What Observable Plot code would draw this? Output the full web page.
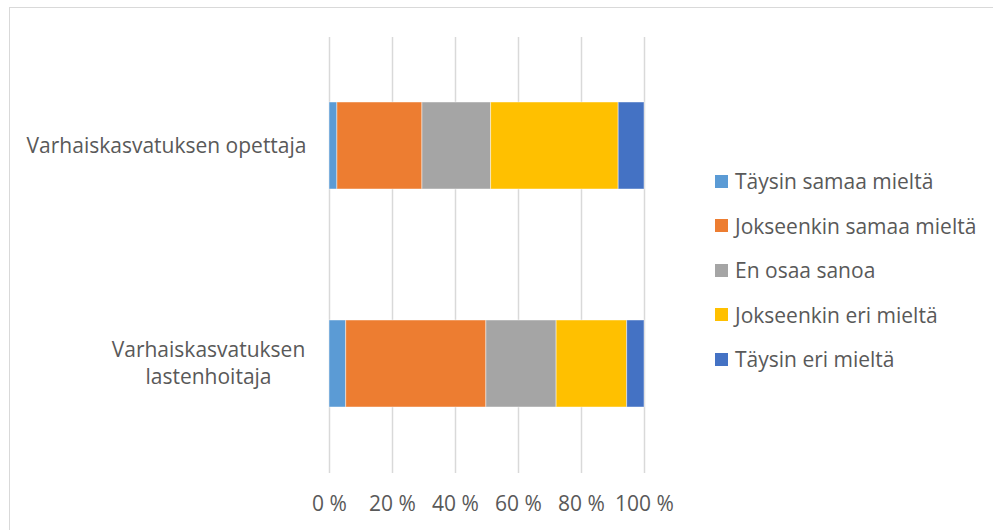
<!DOCTYPE html>
<html lang="fi">
<head>
<meta charset="utf-8">
<script src="https://cdn.jsdelivr.net/npm/d3@7"></script>
<script src="https://cdn.jsdelivr.net/npm/@observablehq/plot@0.6"></script>
<style>
  html, body { margin: 0; padding: 0; background: #fff; overflow: hidden; }
  #wrap { position: relative; width: 993px; height: 530px; overflow: hidden;
          font-family: "Open Sans", Lato, sans-serif; color: #595959; }
  #border { position: absolute; left: 9px; top: 7px; width: 1100px; height: 600px;
            border: 1.5px solid #d9d9d9; box-sizing: border-box; }
  #chart { position: absolute; left: 0; top: 0; }
  #legend { position: absolute; left: 715px; top: 159px; }
  .item { display: flex; align-items: center; height: 44.5px; font-size: 21px; }
  .sw { width: 13px; height: 13px; margin-right: 7px; flex: none; }
</style>
</head>
<body>
<div id="wrap">
  <div id="border"></div>
  <div id="chart"></div>
  <div id="legend"></div>
</div>
<script>
// Survey answers, percentage of respondents by occupation
const categories = ["Varhaiskasvatuksen opettaja", "Varhaiskasvatuksen lastenhoitaja"];
const categoryLabels = ["Varhaiskasvatuksen opettaja", "Varhaiskasvatuksen\nlastenhoitaja"];
const series = ["Täysin samaa mieltä", "Jokseenkin samaa mieltä", "En osaa sanoa", "Jokseenkin eri mieltä", "Täysin eri mieltä"];
const opettajaValues = [2.5, 27.0, 21.8, 40.5, 8.2];
const lastenhoitajaValues = [5.3, 44.5, 22.3, 22.4, 5.5];
const tickValues = [0, 20, 40, 60, 80, 100];
const colors = ["#5B9BD5", "#ED7D31", "#A5A5A5", "#FFC000", "#4472C4"];

const valuesByCategory = [opettajaValues, lastenhoitajaValues];
const rows = [];
categories.forEach((c, i) => {
  series.forEach((s, j) => rows.push({category: c, series: s, value: valuesByCategory[i][j]}));
});
const labelOf = new Map(categories.map((c, i) => [c, categoryLabels[i]]));

const textColor = "#595959";
const font = "'Open Sans', Lato, sans-serif";
const fontSize = 21;
const chart = Plot.plot({
  width: 993,
  height: 530,
  marginLeft: 329,
  marginRight: 349,
  marginTop: 37,
  marginBottom: 57,
  style: {fontFamily: font, background: "transparent", overflow: "visible"},
  x: {domain: [0, 100], ticks: tickValues, label: null},
  y: {domain: categories, paddingInner: 0.6, paddingOuter: 0.3, axis: null},
  color: {domain: series, range: colors},
  marks: [
    Plot.gridX(tickValues, {stroke: "#d9d9d9", strokeOpacity: 1, strokeWidth: 1.5}),
    Plot.barX(rows, Plot.stackX({
      y: "category", x: "value", fill: "series",
      stroke: "#ffffff", strokeOpacity: 0.45, strokeWidth: 1
    })),
    Plot.axisX(tickValues, {
      tickSize: 0, tickPadding: 23, fontSize, fill: textColor, label: null,
      tickFormat: d => `${d} %`
    }),
    // category labels: single-line label right-aligned, wrapped label centred
    Plot.text([categories[0]], {
      y: d => d, text: d => labelOf.get(d), frameAnchor: "left",
      textAnchor: "end", dx: -23, fontSize, fill: textColor
    }),
    Plot.text([categories[1]], {
      y: d => d, text: d => labelOf.get(d), frameAnchor: "left",
      textAnchor: "middle", dx: -121, dy: -2, fontSize, fill: textColor, lineHeight: 1.27
    })
  ]
});
document.getElementById("chart").append(chart);

const legend = d3.select("#legend");
series.forEach((s, i) => {
  const item = legend.append("div").attr("class", "item");
  item.append("div").attr("class", "sw").style("background", colors[i]);
  item.append("span").text(s);
});
</script>
</body>
</html>
